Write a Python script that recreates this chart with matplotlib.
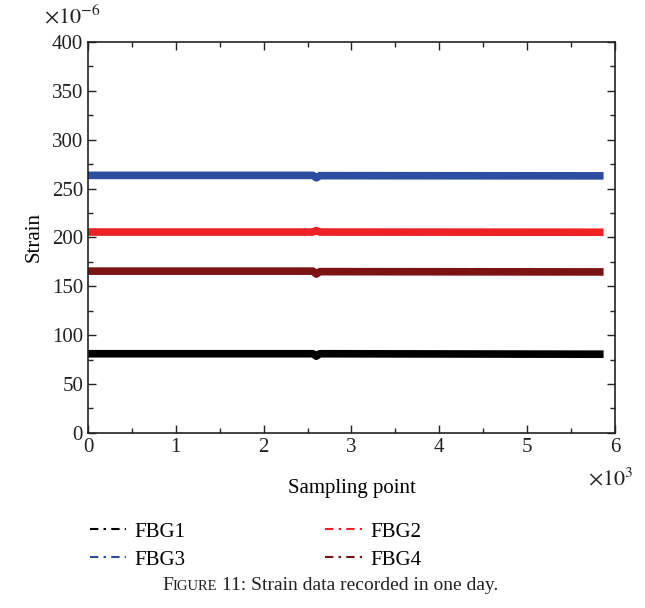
import numpy as np
import matplotlib
matplotlib.use("Agg")
import matplotlib.pyplot as plt
from matplotlib.lines import Line2D
from matplotlib.offsetbox import TextArea, HPacker, AnchoredOffsetbox

plt.rcParams['font.family'] = ['Liberation Serif', 'DejaVu Serif']
plt.rcParams['mathtext.fontset'] = 'stix'

# sampling points (x) and strain (x1e-6) for each grating
x_pts = [0, 2560, 2600, 2640, 5870]
fbg1 = [81.0, 81.0, 78.5, 81.0, 80.5]
fbg2 = [205.5, 205.5, 207.0, 205.5, 205.3]
fbg3 = [263.5, 263.5, 261.0, 263.2, 263.0]
fbg4 = [165.5, 165.5, 162.5, 165.0, 164.7]

names = ['FBG1', 'FBG2', 'FBG3', 'FBG4']
series = [fbg1, fbg2, fbg3, fbg4]
colors = ['#000000', '#ee2226', '#2d4ea0', '#7b1214']

fig = plt.figure(figsize=(6.45, 6.08), dpi=100)
ax = fig.add_axes([0.1364, 0.288, 0.8171, 0.643])

xk = np.array(x_pts) / 1000.0
for name, y, c in zip(names, series, colors):
    ax.plot(xk, y, color=c, lw=5.5, solid_capstyle='butt', label=name)

ax.set_xlim(0, 6)
ax.set_ylim(0, 400)
ax.set_xticks(np.arange(0, 7, 1))
ax.set_yticks(np.arange(0, 401, 50))
ax.set_xticks(np.arange(0.5, 6, 1), minor=True)
ax.set_yticks(np.arange(25, 400, 50), minor=True)
ax.tick_params(which='both', direction='in', top=True, right=True,
               labelsize=15, colors='#222222')
ax.tick_params(which='major', length=6, width=1)
ax.tick_params(which='minor', length=3.5, width=1)
for s in ax.spines.values():
    s.set_linewidth(1.2)
    s.set_color('#222222')

ax.set_xlabel('Sampling point', fontsize=15, labelpad=16)
ax.set_ylabel('Strain', fontsize=15, labelpad=6)

fig.text(0.068, 0.962, r'$\times10^{-6}$', fontsize=16, color='#222222')
fig.text(0.912, 0.202, r'$\times10^{3}$', fontsize=16, color='#222222')

# legend filled column-wise: FBG1, FBG3 | FBG2, FBG4
order = [0, 2, 1, 3]
handles = [Line2D([], [], color=colors[i], lw=1.5, dashes=(4, 2.5, 1.2, 2.5))
           for i in order]
labels = [names[i] for i in order]
fig.legend(handles, labels, loc='upper left', bbox_to_anchor=(0.11, 0.172),
           ncol=2, frameon=False, fontsize=15, handlelength=1.75,
           handletextpad=0.4, columnspacing=6.7, labelspacing=0.4)

# caption with small caps "Figure"
parts = [TextArea('F', textprops=dict(fontsize=14, color='#222222')),
         TextArea('IGURE', textprops=dict(fontsize=10.5, color='#222222')),
         TextArea(' 11: Strain data recorded in one day.',
                  textprops=dict(fontsize=14, color='#222222'))]
box = HPacker(children=parts, align='baseline', pad=0, sep=0)
anch = AnchoredOffsetbox(loc='center', child=box, frameon=False,
                         bbox_to_anchor=(0.512, 0.037),
                         bbox_transform=fig.transFigure, pad=0, borderpad=0)
fig.add_artist(anch)

fig.savefig('out.png', dpi=100)
